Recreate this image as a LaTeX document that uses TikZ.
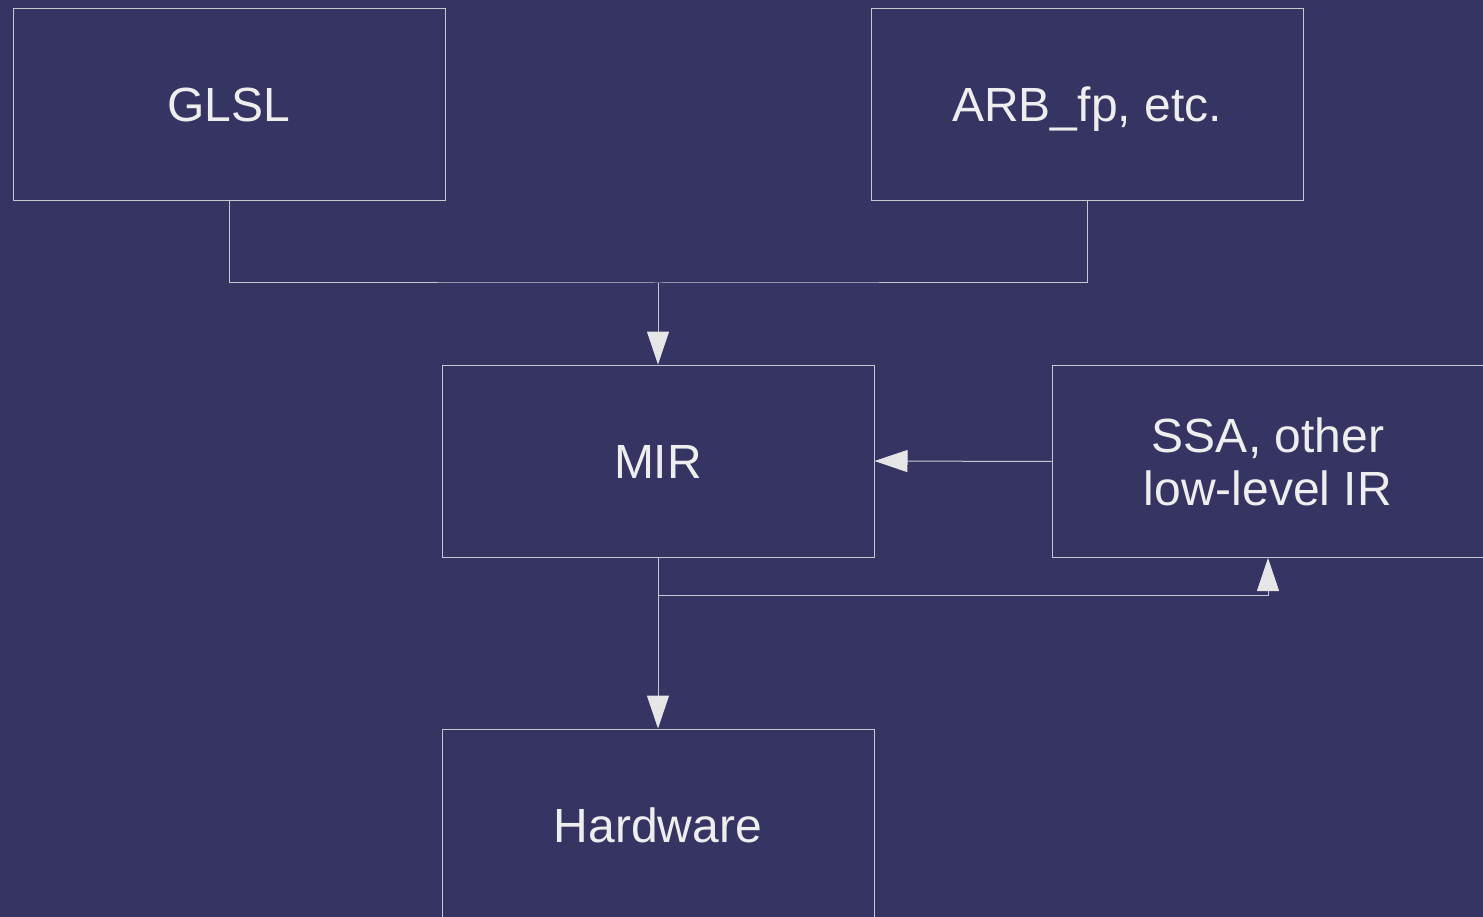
\documentclass[tikz,border=0pt]{standalone}
\usepackage{fontspec}
\setmainfont{Liberation Sans}
\usetikzlibrary{arrows.meta}
\definecolor{bg}{HTML}{353463}
\definecolor{edge}{HTML}{C8C8D2}
\definecolor{txt}{HTML}{EEEEEE}
\definecolor{tip}{HTML}{E6E6E6}
\tikzset{
  blk/.style={draw=edge, line width=1pt, minimum width=432pt, minimum height=192pt, inner sep=0pt,
    text=txt, align=center, font=\fontsize{48}{53}\selectfont, text height=34.4pt, text depth=0pt},
  wire/.style={draw=edge, line width=1pt},
  arr/.style={wire, -{Triangle[length=33pt,width=22pt,fill=tip,color=tip]}}
}
\begin{document}
\begin{tikzpicture}[x=1pt,y=-1pt]
\fill[bg] (0,0) rectangle (1483,917);
\useasboundingbox (0,0) rectangle (1483,917);
\clip (0,0) rectangle (1483,917);
\node[blk] (glsl) at (229,104.5) {GLSL};
\node[blk] (arb) at (1087,104.5) {ARB\_fp, etc.};
\node[blk] (mir) at (658,461) {MIR};
\node[blk, text height=87.4pt] (ssa) at (1268,461.5) {SSA, other\\low-level IR};
\node[blk] (hw) at (658,825) {Hardware};
\coordinate (j1) at (658,283);
\coordinate (j2) at (658,595);
\draw[wire] (glsl.south) |- (j1) -| (arb.south);
\draw[arr] (j1) -- (mir.north);
\draw[arr] (ssa.west) -- (mir.east);
\draw[wire] (mir.south) -- (j2);
\draw[arr] (j2) -| (ssa.south);
\draw[arr] (j2) -- (hw.north);
\end{tikzpicture}
\end{document}
